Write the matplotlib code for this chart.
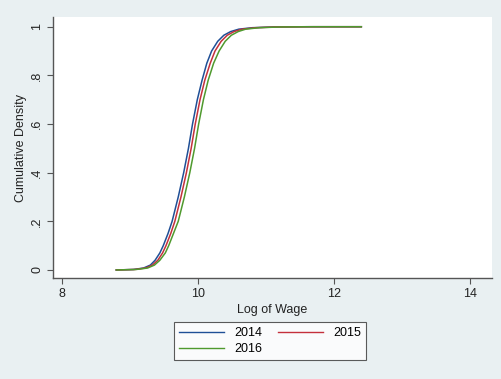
import matplotlib
matplotlib.use("Agg")
import matplotlib.pyplot as plt

plt.rcParams['font.family'] = ['Liberation Sans', 'DejaVu Sans']

# Data (log wage vs cumulative density)
cdf_levels = [0.0, 0.002, 0.008, 0.02, 0.04, 0.07, 0.10, 0.15, 0.20, 0.30, 0.40, 0.50,
              0.60, 0.70, 0.78, 0.85, 0.90, 0.94, 0.965, 0.98, 0.99, 0.996, 0.999, 1.0, 1.0]
wage_2014 = [8.80, 9.05, 9.20, 9.30, 9.37, 9.44, 9.49, 9.56, 9.62, 9.71, 9.79, 9.86,
             9.92, 9.99, 10.06, 10.13, 10.20, 10.29, 10.38, 10.48, 10.60, 10.80, 11.10, 11.60, 12.40]
wage_2015 = [8.80, 9.07, 9.23, 9.33, 9.41, 9.48, 9.53, 9.60, 9.66, 9.75, 9.83, 9.90,
             9.96, 10.03, 10.10, 10.18, 10.25, 10.34, 10.43, 10.53, 10.65, 10.85, 11.15, 11.65, 12.40]
wage_2016 = [8.80, 9.09, 9.26, 9.36, 9.44, 9.52, 9.57, 9.64, 9.71, 9.80, 9.88, 9.95,
             10.01, 10.08, 10.15, 10.23, 10.31, 10.40, 10.49, 10.59, 10.70, 10.90, 11.20, 11.70, 12.40]

x_ticks = [8, 10, 12, 14]
y_ticks = [0, 0.2, 0.4, 0.6, 0.8, 1.0]
y_tick_labels = ["0", ".2", ".4", ".6", ".8", "1"]

W, H = 502, 379
fig = plt.figure(figsize=(W / 100, H / 100), dpi=100)
fig.patch.set_facecolor('#E9F0F2')

left, right, top, bottom = 53, 492, 17, 278
ax = fig.add_axes([left / W, 1 - bottom / H, (right - left) / W, (bottom - top) / H])
ax.set_facecolor('white')

c14, c15, c16 = '#1f4f96', '#c4303c', '#4f9a2e'
l14, = ax.plot(wage_2014, cdf_levels, color=c14, lw=1.1, label='2014')
l15, = ax.plot(wage_2015, cdf_levels, color=c15, lw=1.1, label='2015')
l16, = ax.plot(wage_2016, cdf_levels, color=c16, lw=1.1, label='2016')

ax.set_xlim(7.87, 14.32)
ax.set_ylim(-0.033, 1.04)

for s in ['top', 'right']:
    ax.spines[s].set_visible(False)
for s in ['left', 'bottom']:
    ax.spines[s].set_color('#555555')
    ax.spines[s].set_linewidth(1.0)

ax.set_xticks(x_ticks)
ax.set_xticklabels([str(t) for t in x_ticks])
ax.set_yticks(y_ticks)
ax.set_yticklabels(y_tick_labels, rotation=90, va='center')
ax.tick_params(axis='both', direction='out', length=4, width=0.8, color='#555555',
               labelsize=9, labelcolor='#222222', pad=3)

ax.set_xlabel('Log of Wage', fontsize=9, color='#222222', labelpad=3)
ax.set_ylabel('Cumulative Density', fontsize=9, color='#222222', labelpad=3)

leg = fig.legend(handles=[l14, l16, l15], labels=['2014', '2016', '2015'], ncol=2,
                 loc='upper left', bbox_to_anchor=(174 / W, 1 - 322 / H),
                 fontsize=9, frameon=True, fancybox=False, edgecolor='#333333',
                 handlelength=3.6, handletextpad=0.8, columnspacing=1.3,
                 labelspacing=0.35, borderpad=0.4, borderaxespad=0)
leg.get_frame().set_linewidth(0.8)
for h in leg.get_lines():
    h.set_linewidth(1.0)

fig.savefig('out.png', dpi=100, facecolor=fig.get_facecolor())
